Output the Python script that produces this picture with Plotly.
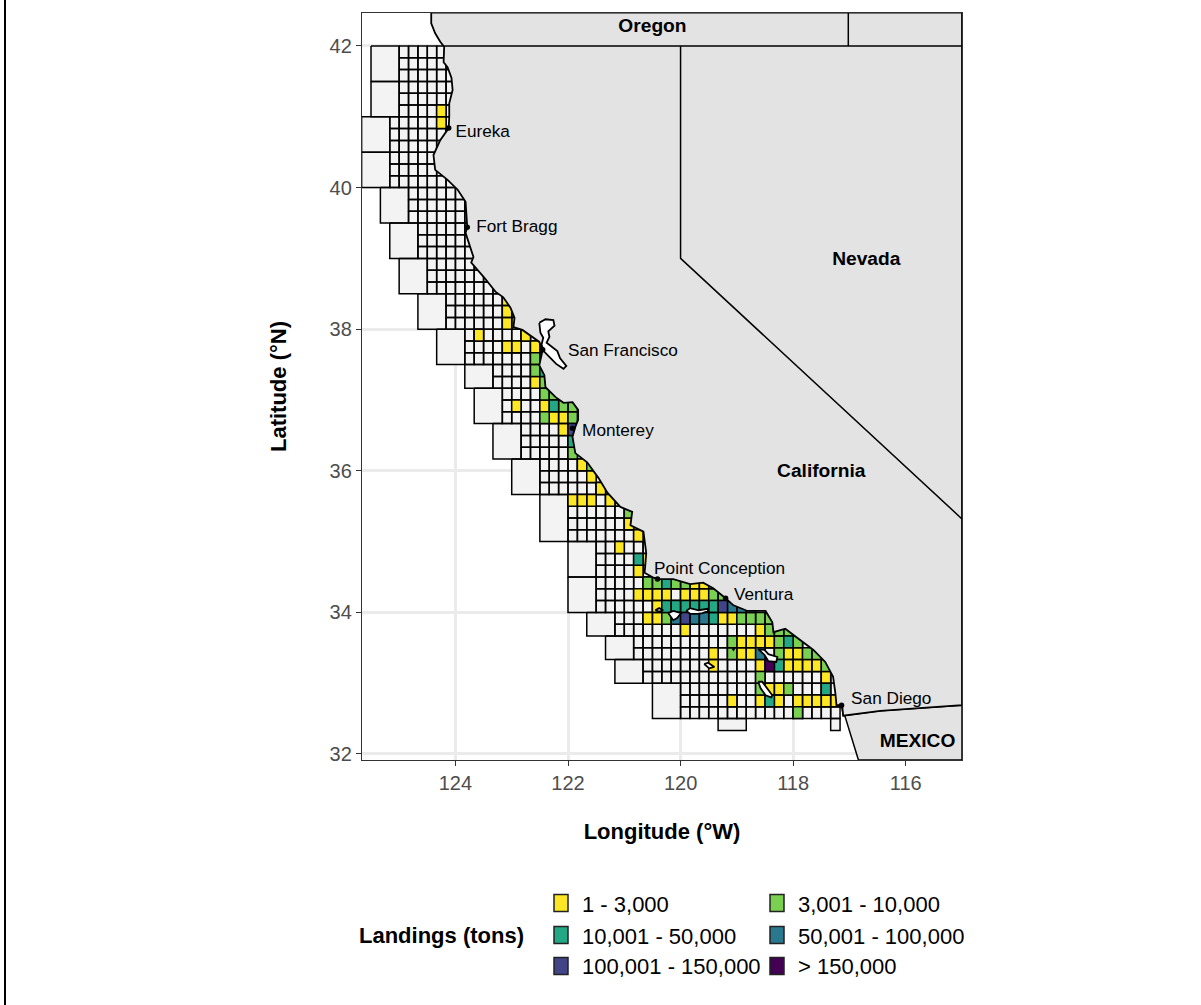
import plotly.graph_objects as go

# ---------- data ----------
LON_RANGE = [-125.66, -115.0]
LAT_RANGE = [31.915, 42.466]
X_TICKS = [-124, -122, -120, -118, -116]
X_LABELS = ["124", "122", "120", "118", "116"]
Y_TICKS = [32, 34, 36, 38, 40, 42]
Y_LABELS = ["32", "34", "36", "38", "40", "42"]

# 10-minute blocks: grid col = sixths of a degree east of 124W, row = sixths south of 42N
FINE_R0 = [0, 6, 12, 15, 18, 21, 24, 27, 29, 32, 35, 38, 42, 48, 50, 52, 54, 56]
FINE_R1 = [6, 12, 15, 18, 21, 24, 27, 29, 32, 35, 38, 42, 48, 50, 52, 54, 56, 57]
FINE_W = [-6, -7, -5, -4, -3, -1, 1, 4, 5, 7, 9, 12, 15, 17, 19, 20, 24, 24]
FINE_E = [1, 0, 3, 4, 6, 8, 11, 11, 14, 14, 18, 22, 30, 36, 41, 42, 43, 41]

# larger offshore blocks
BIG_W = [-9, -9, -10, -10, -8, -7, -6, -4, -2, 1, 2, 4, 6, 9, 12, 12, 14, 16, 17, 21, 28, 40]
BIG_E = [-6, -6, -7, -7, -5, -4, -3, -1, 1, 4, 5, 7, 9, 12, 15, 15, 17, 19, 20, 24, 31, 41]
BIG_T = [0, 3, 6, 9, 12, 15, 18, 21, 24, 27, 29, 32, 35, 38, 42, 45, 48, 50, 52, 54, 57, 57]
BIG_B = [3, 6, 9, 12, 15, 18, 21, 24, 27, 29, 32, 35, 38, 42, 45, 48, 50, 52, 54, 57, 58, 58]

# landing classes: (col, row)
CLASS_LABELS = ["1 - 3,000", "3,001 - 10,000", "10,001 - 50,000",
                "50,001 - 100,000", "100,001 - 150,000", "> 150,000"]
CLASS_COLORS = ["#fde725", "#7ad151", "#22a884", "#2a788e", "#414487", "#440154"]
C1 = [(-2, 5), (-2, 6), (5, 21), (5, 22), (5, 23), (2, 24), (7, 24), (5, 25), (6, 25), (8, 25),
      (8, 28), (6, 30), (9, 30), (10, 31), (11, 31), (11, 32), (13, 35), (14, 36), (15, 37),
      (12, 38), (13, 38), (14, 38), (16, 38), (18, 40), (19, 41), (17, 42), (20, 43), (19, 44),
      (25, 45), (26, 45), (19, 46), (20, 46), (21, 46), (22, 46), (24, 46), (25, 46), (26, 46),
      (21, 47), (20, 48), (21, 48), (28, 48), (29, 48), (24, 49), (32, 49),
      (30, 50), (31, 50), (32, 50), (33, 50), (27, 51), (30, 51), (31, 51), (35, 51), (36, 51),
      (27, 52), (32, 52), (35, 52), (36, 52), (37, 52), (38, 52), (39, 53), (33, 54), (34, 54),
      (29, 55), (32, 55), (34, 55), (36, 55), (37, 55), (38, 55), (39, 55), (40, 55)]
C2 = [(8, 26), (8, 27), (9, 28), (9, 29), (10, 29), (11, 30), (12, 30), (9, 31), (12, 31),
      (12, 34), (14, 35), (18, 39), (20, 45), (21, 45), (23, 45), (24, 45), (27, 45),
      (27, 46), (28, 46), (22, 48), (30, 48), (31, 48), (32, 48), (33, 48), (33, 49), (34, 49),
      (35, 49), (29, 50), (34, 50), (36, 50), (29, 51), (34, 51), (37, 51), (38, 51), (39, 52),
      (32, 53), (32, 54), (35, 54), (36, 56)]
C3 = [(9, 27), (10, 30), (12, 33), (19, 43), (22, 45), (22, 47), (23, 47), (24, 47), (25, 47),
      (26, 47), (27, 47), (27, 48), (35, 50), (34, 52), (39, 54), (33, 55)]
C4 = [(29, 47), (30, 47), (31, 47), (23, 48), (25, 48), (26, 48), (32, 51)]
C5 = [(12, 32), (28, 47), (24, 48)]
C6 = [(33, 52)]
CLASS_CELLS = [C1, C2, C3, C4, C5, C6]

COAST_LON = [-124.43, -124.43, -124.36, -124.27, -124.20, -124.21, -124.14, -124.07, -124.05,
             -124.11, -124.11, -124.12, -124.27, -124.39, -124.36, -124.14, -123.96, -123.82,
             -123.79, -123.82, -123.68, -123.72, -123.50, -123.29, -123.15, -123.02, -122.95,
             -122.97, -122.81, -122.63, -122.51, -122.45, -122.51, -122.42, -122.40, -122.22,
             -122.08, -121.92, -121.82, -121.82, -121.87, -121.92, -121.87, -121.66, -121.46,
             -121.30, -121.07, -120.86, -120.89, -120.66, -120.63, -120.61, -120.63, -120.64,
             -120.48, -120.39, -120.13, -119.83, -119.60, -119.42, -119.20, -119.06, -118.81,
             -118.49, -118.37, -118.35, -118.14, -117.93, -117.64, -117.43, -117.29, -117.25,
             -117.23, -117.13, -117.11]
COAST_LAT = [42.47, 42.32, 42.18, 42.06, 41.99, 41.77, 41.70, 41.55, 41.38,
             41.19, 41.00, 40.84, 40.67, 40.46, 40.25, 40.11, 39.97, 39.80,
             39.44, 39.36, 39.02, 38.94, 38.74, 38.53, 38.45, 38.30, 38.16,
             38.03, 37.99, 37.89, 37.82, 37.71, 37.49, 37.35, 37.18, 37.04,
             36.96, 36.97, 36.86, 36.72, 36.62, 36.48, 36.25, 36.12, 35.90,
             35.69, 35.49, 35.42, 35.23, 35.14, 34.98, 34.84, 34.64, 34.56,
             34.49, 34.47, 34.47, 34.40, 34.42, 34.34, 34.20, 34.10, 34.02,
             34.02, 33.86, 33.72, 33.77, 33.64, 33.47, 33.30, 33.09, 32.86,
             32.69, 32.69, 32.54]
BORDER_S_LON = [-116.45, -115.0]
BORDER_S_LAT = [32.61, 32.69]
LAND_CORNER_LON = [-115.0, -115.0]
LAND_CORNER_LAT = [32.69, 42.47]

OREGON_LON = [-124.20, -115.0]
OREGON_LAT = [42.0, 42.0]
IDAHO_LON = [-117.02, -117.02]
IDAHO_LAT = [42.0, 42.47]
NEVADA_LON = [-120.0, -120.0, -115.0]
NEVADA_LAT = [42.0, 39.0, 35.32]
MEXICO_LON = [-117.14, -116.84, -115.0, -115.0, -116.45, -117.11]
MEXICO_LAT = [32.69, 31.915, 31.915, 32.69, 32.61, 32.54]

BAY_LON = [-122.51, -122.40, -122.26, -122.24, -122.35, -122.33, -122.38, -122.28, -122.19,
           -122.14, -122.03, -122.08, -122.21, -122.31, -122.42, -122.47, -122.44, -122.49]
BAY_LAT = [38.09, 38.14, 38.13, 38.05, 37.97, 37.89, 37.81, 37.75, 37.69,
           37.59, 37.48, 37.44, 37.51, 37.59, 37.68, 37.78, 37.88, 37.95]

ISLANDS_LON = [
    [-120.45, -120.38, -120.31, -120.38],
    [-120.22, -120.13, -119.99, -120.06, -120.13, -120.18],
    [-119.90, -119.83, -119.68, -119.52, -119.51, -119.61, -119.70, -119.83],
    [-119.58, -119.51, -119.40, -119.49],
    [-118.62, -118.51, -118.44, -118.28, -118.30, -118.44, -118.51],
    [-118.62, -118.55, -118.37, -118.39, -118.49, -118.58],
    [-119.08, -119.04, -119.06],
]
ISLANDS_LAT = [
    [34.03, 34.06, 34.03, 34.01],
    [33.99, 34.02, 33.99, 33.92, 33.89, 33.95],
    [34.02, 34.06, 34.03, 34.05, 34.02, 33.99, 33.98, 33.98],
    [33.27, 33.29, 33.23, 33.21],
    [33.48, 33.47, 33.41, 33.37, 33.30, 33.31, 33.40],
    [33.02, 33.02, 32.83, 32.80, 32.83, 32.93],
    [33.49, 33.50, 33.47],
]

CITY_DOT_LON = [-124.12, -123.79, -122.45, -121.92, -120.41, -119.20, -117.14]
CITY_DOT_LAT = [40.84, 39.44, 37.71, 36.60, 34.47, 34.20, 32.69]
CITY_NAMES = ["Eureka", "Fort Bragg", "San Francisco", "Monterey", "Point Conception", "Ventura", "San Diego"]
CITY_TEXT_LON = [-124.0, -123.63, -122.0, -121.75, -120.47, -119.05, -116.97]
CITY_TEXT_LAT = [40.78, 39.43, 37.68, 36.55, 34.60, 34.24, 32.77]
STATE_NAMES = ["Oregon", "Nevada", "California", "MEXICO"]
STATE_LON = [-120.50, -116.70, -117.50, -115.79]
STATE_LAT = [42.26, 38.97, 35.98, 32.16]

# ---------- helpers ----------
FONT = "Liberation Sans"
P_L, P_R, P_T, P_B = 362, 962, 13, 760


def col_lon(c):
    return -124 + c / 6


def row_lat(r):
    return 42 - r / 6


def cells_path(rects):
    xs, ys = [], []
    for w, e, t, b in rects:
        xs += [col_lon(w), col_lon(e), col_lon(e), col_lon(w), col_lon(w), None]
        ys += [row_lat(t), row_lat(t), row_lat(b), row_lat(b), row_lat(t), None]
    return xs, ys


def poly(xs, ys, fill, width=1.5, color="black", close=True):
    x, y = list(xs), list(ys)
    if close:
        x.append(x[0])
        y.append(y[0])
    return go.Scatter(x=x, y=y, mode="lines", fill="toself" if fill else "none",
                      fillcolor=fill, line=dict(color=color, width=width),
                      hoverinfo="skip", showlegend=False)


fig = go.Figure()

# grey base grid
rects = []
for r0, r1, w, e in zip(FINE_R0, FINE_R1, FINE_W, FINE_E):
    for r in range(r0, r1):
        for c in range(w, e):
            rects.append((c, c + 1, r, r + 1))
for w, e, t, b in zip(BIG_W, BIG_E, BIG_T, BIG_B):
    rects.append((w, e, t, b))
x, y = cells_path(rects)
fig.add_trace(poly(x, y, "#f3f3f3", close=False))

# landing classes
for cells, color in zip(CLASS_CELLS, CLASS_COLORS):
    x, y = cells_path([(c, c + 1, r, r + 1) for c, r in cells])
    fig.add_trace(poly(x, y, color, close=False))

# land
LAND_FILL = "#e3e3e3"
fig.add_trace(poly(MEXICO_LON, MEXICO_LAT, LAND_FILL))
fig.add_trace(poly(COAST_LON + BORDER_S_LON + LAND_CORNER_LON,
                   COAST_LAT + BORDER_S_LAT + LAND_CORNER_LAT, LAND_FILL, width=1.8))
for xs, ys in [(OREGON_LON, OREGON_LAT), (IDAHO_LON, IDAHO_LAT), (NEVADA_LON, NEVADA_LAT)]:
    fig.add_trace(poly(xs, ys, None, close=False))
fig.add_trace(poly(BAY_LON, BAY_LAT, "white", width=1.8))
for xs, ys in zip(ISLANDS_LON, ISLANDS_LAT):
    fig.add_trace(poly(xs, ys, "white", width=1.8))

# cities and labels
fig.add_trace(go.Scatter(x=CITY_DOT_LON, y=CITY_DOT_LAT, mode="markers",
                         marker=dict(color="black", size=5.5), hoverinfo="skip", showlegend=False))
fig.add_trace(go.Scatter(x=CITY_TEXT_LON, y=CITY_TEXT_LAT, mode="text", text=CITY_NAMES,
                         textposition="middle right", cliponaxis=False,
                         textfont=dict(family=FONT, size=17.2, color="black"),
                         hoverinfo="skip", showlegend=False))
fig.add_trace(go.Scatter(x=STATE_LON, y=STATE_LAT, mode="text", text=STATE_NAMES,
                         textposition="middle center", cliponaxis=False,
                         textfont=dict(family=FONT, size=19.2, color="black", weight="bold"),
                         hoverinfo="skip", showlegend=False))


# ---------- manual legend (pixel layout converted to paper fractions) ----------
def px(xp):
    return (xp - P_L) / (P_R - P_L)


def py(yp):
    return (P_B - yp) / (P_B - P_T)


shapes, annos = [], []
KEY_X = [554, 770, 554, 770, 554, 770]
KEY_Y = [903, 903, 935, 935, 966, 966]
TEXT_X = [580, 796, 580, 796, 580, 796]
for kx, ky, tx, lab, col in zip(KEY_X, KEY_Y, TEXT_X, CLASS_LABELS, CLASS_COLORS):
    shapes.append(dict(type="rect", xref="paper", yref="paper", x0=px(kx), x1=px(kx + 14),
                       y0=py(ky - 8.5), y1=py(ky + 8.5), fillcolor=col,
                       line=dict(color="#222222", width=1.5)))
    annos.append(dict(xref="paper", yref="paper", x=px(tx), y=py(ky + 1), text=lab, showarrow=False,
                      xanchor="left", yanchor="middle", font=dict(family=FONT, size=22, color="black")))
annos.append(dict(xref="paper", yref="paper", x=px(526), y=py(935), text="<b>Landings (tons)</b>",
                  showarrow=False, xanchor="right", yanchor="middle",
                  font=dict(family=FONT, size=22, color="black")))
# page frame line on the left edge
shapes.append(dict(type="line", xref="paper", yref="paper", x0=px(5), x1=px(5), y0=py(0), y1=py(1005),
                   line=dict(color="black", width=2)))

axis_common = dict(showline=True, linecolor="#333333", linewidth=1.3, mirror=True,
                   ticks="outside", ticklen=5, tickcolor="#333333", tickwidth=1.3,
                   showgrid=True, gridcolor="#ebebeb", gridwidth=2.5, zeroline=False,
                   tickfont=dict(family=FONT, size=20, color="#4d4d4d"))
fig.update_layout(
    width=1201, height=1005, autosize=False,
    margin=dict(l=P_L, r=1201 - P_R, t=P_T, b=1005 - P_B),
    paper_bgcolor="white", plot_bgcolor="white",
    showlegend=False, shapes=shapes, annotations=annos,
    xaxis=dict(range=LON_RANGE, tickvals=X_TICKS, ticktext=X_LABELS,
               title=dict(text="<b>Longitude (°W)</b>", standoff=30,
                          font=dict(family=FONT, size=22, color="black")), **axis_common),
    yaxis=dict(range=LAT_RANGE, tickvals=Y_TICKS, ticktext=Y_LABELS,
               title=dict(text="<b>Latitude (°N)</b>", standoff=36,
                          font=dict(family=FONT, size=22, color="black")), **axis_common),
)
fig.write_html("out.html", post_script="document.body.style.margin='0';document.body.style.overflow='hidden';",
               config=dict(displayModeBar=False))
